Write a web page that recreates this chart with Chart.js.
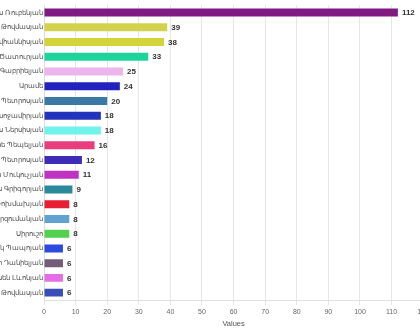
<!DOCTYPE html>
<html>
<head>
<meta charset="utf-8">
<script src="https://cdn.jsdelivr.net/npm/chart.js@4.4.1/dist/chart.umd.min.js"></script>
<style>
  html, body { margin: 0; padding: 0; background: #fff; overflow: hidden; }
  #wrap { position: absolute; left: 0; top: 0; width: 432px; height: 330px; }
</style>
</head>
<body>
<div id="wrap"><canvas id="chart" width="432" height="330"></canvas></div>
<script>
/* Horizontal bar – names and counts */
const labels = [
  'Սարգիս Ռուբենյան', 'Մարինե Թովմասյան', 'Արամ Հովհաննիսյան', 'Մինաս Ծատուրյան',
  'Գաբրիելյան', 'Արամե', 'Վարդգես Պետրոսյան', 'Արմեն Խոջամիրյան',
  'Հովհաննես Ներսիսյան', 'Արմինե Պեպելյան', 'Պետրոսյան', 'Արտաշես Մուկուչյան',
  'Ավետիս Գրիգորյան', 'Ալեքսանդր Թոխմախյան', 'Արզումանյան', 'Սիրուշո',
  'Անդրանիկ Պապոյան', 'Ասատուր Դանիելյան', 'Արսեն Լևոնյան', 'Մովսես Թովմասյան'
];
const values = [112, 39, 38, 33, 25, 24, 20, 18, 18, 16, 12, 11, 9, 8, 8, 8, 6, 6, 6, 6];
const colors = [
  '#7e1a82', '#d2d24e', '#d4d43a', '#1fd49c', '#ecb6ec', '#2222bc', '#3a78a6', '#2234bc',
  '#6ef4ea', '#ea3e7c', '#3c2cb8', '#c032c2', '#2a8a9c', '#e81e34', '#62a2d0', '#52d04e',
  '#2c4ae0', '#735c7a', '#e46ee6', '#3a4cb8'
];
const xMax = 120;
const xStep = 10;
const axisTitle = 'Values';

const valueLabels = {
  id: 'valueLabels',
  afterDatasetsDraw(chart) {
    const { ctx } = chart;
    const meta = chart.getDatasetMeta(0);
    ctx.save();
    ctx.font = 'bold 8px "Liberation Sans", Arial, sans-serif';
    ctx.fillStyle = '#333';
    ctx.textAlign = 'left';
    ctx.textBaseline = 'middle';
    meta.data.forEach((bar, i) => {
      ctx.fillText(String(values[i]), bar.x + 4, bar.y + 0.5);
    });
    ctx.restore();
  }
};

new Chart(document.getElementById('chart'), {
  type: 'bar',
  data: {
    labels,
    datasets: [{
      data: values,
      backgroundColor: colors,
      borderWidth: 0,
      barPercentage: 0.6,
      categoryPercentage: 0.9
    }]
  },
  options: {
    indexAxis: 'y',
    responsive: false,
    animation: false,
    devicePixelRatio: 1,
    layout: { padding: { top: 4, right: 0, bottom: 0, left: 0 } },
    plugins: {
      legend: { display: false },
      tooltip: { enabled: false }
    },
    scales: {
      x: {
        min: 0,
        max: xMax,
        afterFit: (s) => { s.height = 30; },
        ticks: { stepSize: xStep, color: '#666', padding: 3, font: { size: 7 } },
        grid: { color: '#e6e6e6', tickLength: 5 },
        border: { color: '#e0e0e0' },
        title: { display: true, text: axisTitle, color: '#555', font: { size: 7.5 }, padding: { top: 2, bottom: 2 } }
      },
      y: {
        afterFit: (s) => { s.width = 44; },
        ticks: { color: '#555', padding: 1, font: { size: 7 }, autoSkip: false },
        grid: { drawOnChartArea: false, drawTicks: false },
        border: { color: '#dcdcdc' }
      }
    }
  },
  plugins: [valueLabels]
});
</script>
</body>
</html>
